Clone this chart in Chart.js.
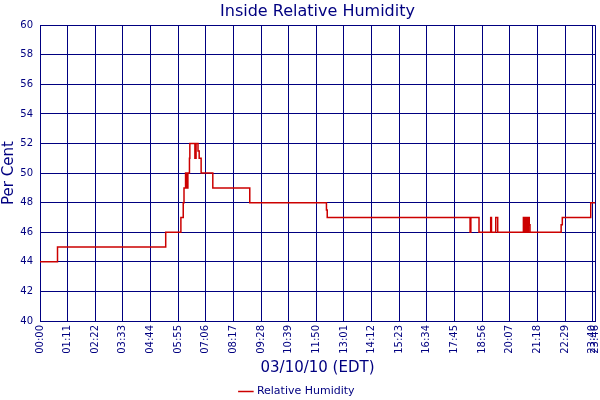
<!DOCTYPE html>
<html><head><meta charset="utf-8">
<script src="https://cdn.jsdelivr.net/npm/chart.js@4"></script>
<style>html,body{margin:0;padding:0;background:#fff}#wrap{width:600px;height:400px}</style>
</head><body><div id="wrap"><canvas id="c" width="600" height="400"></canvas></div>
<script>
// minutes after midnight at which each reading begins
const times = [0,45,323,362,368,370,374,375,376,377,378,379,380,381,384,385,398,399,400,401,406,409,414,444,539,736,738,1105,1107,1128,1158,1160,1171,1176,1242,1245,1247,1249,1251,1253,1255,1257,1259,1339,1342,1415,1426];
const humidity = [44,45,46,47,48,49,50,49,50,49,50,49,50,50,51,52,51,52,51,52,51.5,51,50,49,48,47.5,47,46,47,46,47,46,47,46,47,46,47,46,47,46,47,46.5,46,46.5,47,48,48];
const tickMinutes = [0,71,142,213,284,355,426,497,568,639,710,781,852,923,994,1065,1136,1207,1278,1349,1420,1426];
const yTicks = [40,42,44,46,48,50,52,54,56,58,60];

const NAVY = '#000080';
const FONT = 'DejaVu Sans';
const fmt = m => String(Math.floor(m/60)).padStart(2,'0') + ':' + String(m%60).padStart(2,'0');

new Chart(document.getElementById('c'), {
  type: 'line',
  data: {
    datasets: [{
      label: 'Relative Humidity',
      data: times.map((t,i) => ({x: t, y: humidity[i]})),
      borderColor: '#CC0000',
      backgroundColor: '#CC0000',
      borderWidth: 1.5,
      pointRadius: 0,
      stepped: true,
      fill: false
    }]
  },
  options: {
    responsive: false,
    animation: false,
    layout: {padding: {left: 0, right: 5, top: 0, bottom: -7}},
    plugins: {
      title: {display: true, text: 'Inside Relative Humidity', color: NAVY, fullSize: false,
        font: {family: FONT, size: 16, weight: 'normal'}, padding: {top: 2, bottom: 4}},
      legend: {position: 'bottom', labels: {color: NAVY, font: {family: FONT, size: 11},
        usePointStyle: true, pointStyle: 'line', boxWidth: 13, padding: 2}},
      tooltip: {enabled: false}
    },
    scales: {
      x: {
        type: 'linear', min: 0, max: 1426,
        afterBuildTicks: s => { s.ticks = tickMinutes.map(v => ({value: v})); },
        afterFit: s => { s.height = 63; s.paddingRight = 0; s.paddingLeft = 0; },
        grid: {color: NAVY, lineWidth: 1, drawTicks: false},
        border: {color: NAVY},
        ticks: {color: NAVY, font: {family: FONT, size: 10}, minRotation: 90, maxRotation: 90,
          autoSkip: false, padding: 4, callback: v => fmt(v)},
        title: {display: true, text: '03/10/10 (EDT)', color: NAVY, font: {family: FONT, size: 15}, padding: {top: 2, bottom: 7}}
      },
      y: {
        min: 40, max: 60,
        afterBuildTicks: s => { s.ticks = yTicks.map(v => ({value: v})); },
        afterFit: s => { s.width = 40; },
        grid: {color: NAVY, lineWidth: 1, drawTicks: false},
        border: {color: NAVY},
        ticks: {color: NAVY, font: {family: FONT, size: 10}, padding: 7},
        title: {display: true, text: 'Per Cent', color: NAVY, font: {family: FONT, size: 15}, padding: 0}
      }
    }
  }
});
</script></body></html>
